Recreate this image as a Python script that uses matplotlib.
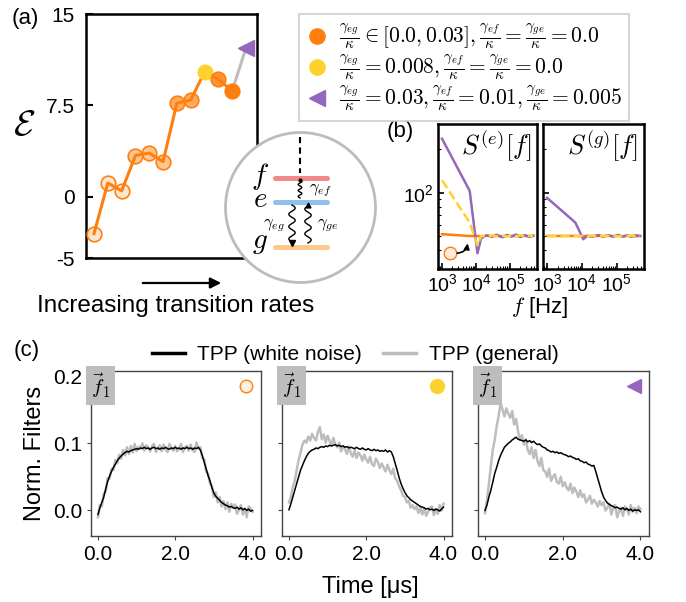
import numpy as np
import matplotlib
matplotlib.use('Agg')
import matplotlib.pyplot as plt
from matplotlib.lines import Line2D
from matplotlib.patches import Circle, FancyArrowPatch
from matplotlib.colors import to_rgba
from matplotlib.ticker import NullFormatter

W, H = 686, 602
plt.rcParams['font.family'] = ['Liberation Sans', 'DejaVu Sans']
plt.rcParams['mathtext.fontset'] = 'cm'

ORANGE = '#ff7f0e'
YELLOW = '#fdd22e'
PURPLE = '#9467bd'
GRAY = '#bdbdbd'

# (a) performance vs transition rates
a_E = [-3.0, 1.15, 0.5, 3.4, 3.6, 2.9, 7.7, 7.95, 10.25, 9.65, 8.7]
a_fill = [0.2, 0.2, 0.2, 0.45, 0.45, 0.45, 0.65, 0.65, 1.0, 0.85, 1.0]
a_yellow_idx = 8
a_purple_E = 12.2
a_yticks = [-5, 0, 7.5, 15]
a_yticklabels = ['-5', '0', '7.5', '15']

# (b) spectra
freq = [1e3, 6.5e3, 1.1e4, 1.4e4, 2e4, 3e4, 4e4, 6e4, 8e4, 1.1e5, 1.5e5, 2e5, 2.7e5, 3.6e5, 4.8e5]
Se_orange = [51.5, 50, 50, 49.8, 50.2, 49.9, 50.1, 49.8, 50.3, 49.9, 50.1, 49.7, 50.2, 49.9, 50.1]
Se_yellow = [122, 62, 43, 50, 49.5, 50.5, 49.8, 50.3, 49.6, 50.4, 49.8, 50.6, 49.7, 50.3, 50]
Se_purple = [237, 103, 38, 48, 50.5, 49.5, 51, 49, 50.8, 49.6, 51.2, 49.3, 50.6, 49.5, 50.2]
Sg_orange = [50, 50.1, 49.8, 50.2, 49.9, 50.1, 49.8, 50.3, 49.9, 50.2, 49.7, 50.1, 50.0, 49.8, 50.1]
Sg_yellow = [50.2, 49.9, 50.1, 49.7, 50.3, 49.8, 50.2, 49.9, 50.4, 49.8, 50.1, 49.9, 50.3, 49.7, 50.0]
Sg_purple = [92, 62, 47.5, 50, 49.6, 50.8, 49.7, 50.4, 49.5, 50.9, 49.6, 50.5, 49.4, 50.6, 50]

# (c) normalised filters, sampled every 0.05 us from 0 to 4 us
c1_white = [-0.006, 0.004, 0.012, 0.020, 0.032, 0.043, 0.051, 0.058, 0.064, 0.069,
            0.074, 0.078, 0.081, 0.084, 0.086, 0.088, 0.087, 0.089, 0.090, 0.091,
            0.092, 0.091, 0.093, 0.092, 0.094, 0.092, 0.093, 0.091, 0.093, 0.094,
            0.092, 0.093, 0.091, 0.093, 0.092, 0.094, 0.092, 0.091, 0.093, 0.092,
            0.094, 0.092, 0.093, 0.091, 0.093, 0.092, 0.094, 0.092, 0.093, 0.091,
            0.093, 0.092, 0.094, 0.090, 0.082, 0.072, 0.062, 0.052, 0.044, 0.034,
            0.026, 0.021, 0.018, 0.015, 0.012, 0.010, 0.008, 0.007, 0.005, 0.006,
            0.004, 0.003, 0.005, 0.002, 0.004, 0.001, 0.003, 0.000, 0.002, -0.001, 0.000]
c1_general = [-0.010, 0.008, 0.006, 0.025, 0.028, 0.048, 0.047, 0.062, 0.060, 0.075,
              0.070, 0.083, 0.077, 0.090, 0.082, 0.094, 0.084, 0.096, 0.086, 0.099,
              0.088, 0.095, 0.092, 0.100, 0.089, 0.097, 0.094, 0.088, 0.096, 0.099,
              0.087, 0.092, 0.097, 0.088, 0.098, 0.091, 0.087, 0.099, 0.093, 0.089,
              0.096, 0.088, 0.092, 0.099, 0.087, 0.094, 0.096, 0.089, 0.098, 0.090,
              0.087, 0.101, 0.092, 0.094, 0.078, 0.076, 0.058, 0.055, 0.040, 0.036,
              0.020, 0.027, 0.012, 0.020, 0.006, 0.014, 0.002, 0.012, -0.002, 0.010,
              0.004, 0.009, -0.005, 0.001, 0.008, -0.006, 0.002, -0.010, 0.006, 0.003, -0.002]
c2_white = [0.001, 0.010, 0.020, 0.030, 0.040, 0.050, 0.060, 0.067, 0.074, 0.080,
            0.085, 0.088, 0.090, 0.091, 0.093, 0.092, 0.094, 0.095, 0.094, 0.096,
            0.095, 0.097, 0.096, 0.097, 0.098, 0.096, 0.097, 0.095, 0.096, 0.094,
            0.095, 0.093, 0.094, 0.093, 0.092, 0.094, 0.092, 0.091, 0.093, 0.091,
            0.090, 0.092, 0.090, 0.089, 0.091, 0.089, 0.090, 0.088, 0.089, 0.088,
            0.090, 0.087, 0.089, 0.087, 0.080, 0.070, 0.060, 0.049, 0.040, 0.033,
            0.027, 0.022, 0.019, 0.016, 0.014, 0.012, 0.010, 0.008, 0.006, 0.005,
            0.004, 0.002, 0.003, 0.001, 0.002, 0.000, 0.002, 0.001, -0.001, 0.002, 0.005]
c2_general = [0.012, 0.020, 0.035, 0.044, 0.060, 0.075, 0.086, 0.098, 0.104, 0.101,
              0.110, 0.104, 0.114, 0.108, 0.104, 0.117, 0.124, 0.106, 0.113, 0.101,
              0.111, 0.104, 0.096, 0.108, 0.098, 0.094, 0.101, 0.088, 0.096, 0.091,
              0.084, 0.095, 0.085, 0.080, 0.090, 0.078, 0.086, 0.082, 0.074, 0.083,
              0.076, 0.071, 0.080, 0.069, 0.066, 0.077, 0.072, 0.063, 0.070, 0.064,
              0.058, 0.068, 0.060, 0.054, 0.062, 0.048, 0.044, 0.036, 0.030, 0.022,
              0.020, 0.012, 0.014, 0.004, 0.008, 0.002, 0.006, -0.004, 0.004, -0.006,
              0.003, -0.008, -0.002, 0.004, 0.006, -0.007, 0.002, -0.005, 0.008, 0.000, 0.010]
c3_white = [0.000, 0.008, 0.020, 0.030, 0.042, 0.055, 0.064, 0.074, 0.082, 0.088,
            0.094, 0.097, 0.100, 0.102, 0.105, 0.107, 0.109, 0.106, 0.105, 0.104,
            0.103, 0.105, 0.102, 0.104, 0.101, 0.103, 0.100, 0.098, 0.099, 0.096,
            0.094, 0.093, 0.090, 0.089, 0.087, 0.088, 0.086, 0.087, 0.085, 0.086,
            0.084, 0.083, 0.082, 0.080, 0.081, 0.079, 0.078, 0.076, 0.077, 0.074,
            0.073, 0.071, 0.072, 0.069, 0.068, 0.066, 0.067, 0.058, 0.048, 0.038,
            0.028, 0.020, 0.015, 0.011, 0.009, 0.007, 0.006, 0.004, 0.005, 0.003,
            0.002, 0.004, 0.001, 0.003, 0.000, 0.002, -0.001, 0.001, 0.000, 0.001, -0.002]
c3_general = [-0.004, 0.015, 0.040, 0.065, 0.090, 0.105, 0.125, 0.140, 0.161, 0.150,
              0.140, 0.152, 0.144, 0.138, 0.148, 0.128, 0.136, 0.118, 0.105, 0.112,
              0.098, 0.106, 0.090, 0.084, 0.094, 0.078, 0.090, 0.074, 0.066, 0.078,
              0.060, 0.058, 0.050, 0.062, 0.044, 0.050, 0.054, 0.042, 0.040, 0.050,
              0.036, 0.042, 0.034, 0.030, 0.040, 0.026, 0.034, 0.028, 0.020, 0.030,
              0.020, 0.024, 0.012, 0.016, 0.022, 0.010, 0.016, 0.012, 0.006, 0.014,
              0.008, 0.012, 0.000, 0.004, 0.010, -0.006, 0.004, 0.008, -0.010, -0.002,
              0.004, -0.008, 0.006, 0.002, -0.006, 0.008, -0.002, 0.004, -0.004, 0.006, 0.002]


def px_axes(fig, x0, y0, x1, y1, **kw):
    """Add axes given its pixel box (top-left origin)"""
    return fig.add_axes([x0 / W, 1 - y1 / H, (x1 - x0) / W, (y1 - y0) / H], **kw)


def ftext(fig, x, y, s, **kw):
    return fig.text(x / W, 1 - y / H, s, **kw)


fig = plt.figure(figsize=(W / 100, H / 100), dpi=100)

# ---------------- (a) ----------------
axa = px_axes(fig, 86, 14, 257, 258)
xa = np.arange(len(a_E))
axa.plot(xa, a_E, color=ORANGE, lw=2.2, zorder=2)
axa.plot([xa[-1], xa[-1] + 1], [a_E[-1], a_purple_E], color=GRAY, lw=2.2, zorder=1)
for i, (x, e, al) in enumerate(zip(xa, a_E, a_fill)):
    if i == a_yellow_idx:
        axa.plot(x, e, 'o', ms=10.5, mfc=YELLOW, mec=YELLOW, zorder=3)
    else:
        axa.plot(x, e, 'o', ms=10.5, mfc=to_rgba(ORANGE, al), mec=ORANGE, mew=1.2, zorder=3)
axa.plot(xa[-1] + 1, a_purple_E, '<', ms=11, color=PURPLE, zorder=3)
axa.set_xlim(-0.58, 11.8)
axa.set_ylim(-5, 15)
axa.set_xticks([])
axa.set_yticks(a_yticks)
axa.set_yticklabels(a_yticklabels)
axa.tick_params(axis='y', direction='in', length=5, width=1.5, labelsize=15, pad=8)
for s in axa.spines.values():
    s.set_linewidth(1.8)
axa.set_ylabel(r'$\mathcal{E}$', fontsize=26, rotation=0, labelpad=14)
axa.yaxis.set_label_coords(-0.36, 0.47)
ftext(fig, 12, 24, '(a)', fontsize=16)

fig.add_artist(FancyArrowPatch(
    (140 / W, 1 - 283 / H), (224 / W, 1 - 283 / H), transform=fig.transFigure,
    arrowstyle='-|>', mutation_scale=16, lw=1.6, color='black'))
ftext(fig, 176, 306, 'Increasing transition rates', fontsize=17.5, ha='center', va='center')

# legend for (a)
handles = [
    Line2D([], [], ls='none', marker='o', ms=11, color=ORANGE),
    Line2D([], [], ls='none', marker='o', ms=11, color=YELLOW),
    Line2D([], [], ls='none', marker='<', ms=11, color=PURPLE),
]
labels = [
    r'$\frac{\gamma_{eg}}{\kappa} \in [0.0, 0.03], \frac{\gamma_{ef}}{\kappa} = \frac{\gamma_{ge}}{\kappa} = 0.0$',
    r'$\frac{\gamma_{eg}}{\kappa} = 0.008, \frac{\gamma_{ef}}{\kappa} = \frac{\gamma_{ge}}{\kappa} = 0.0$',
    r'$\frac{\gamma_{eg}}{\kappa} = 0.03, \frac{\gamma_{ef}}{\kappa} = 0.01, \frac{\gamma_{ge}}{\kappa} = 0.005$',
]
leg = fig.legend(handles, labels, loc='upper left', bbox_to_anchor=(299 / W, 1 - 14 / H),
                 fontsize=15.5, frameon=True, fancybox=False, handlelength=1.0,
                 handletextpad=0.5, borderpad=0.35, labelspacing=0.08, borderaxespad=0)
leg.get_frame().set_edgecolor('#cccccc')
leg.get_frame().set_linewidth(1.5)

# ---------------- level diagram inset ----------------
axd = px_axes(fig, 224, 131, 377, 284)
axd.set_xlim(224, 377)
axd.set_ylim(284, 131)
axd.axis('off')
axd.add_patch(Circle((300.5, 207.5), 75, facecolor='white', edgecolor='#bcbcbc', lw=2))
axd.plot([275, 327], [177.5, 177.5], color='#f08a8a', lw=3.6, solid_capstyle='round')
axd.plot([275, 327], [201.5, 201.5], color='#8fc1ea', lw=3.6, solid_capstyle='round')
axd.plot([275, 327], [246.5, 246.5], color='#fcc98b', lw=3.6, solid_capstyle='round')
axd.plot([300, 300], [137, 173], color='black', lw=1.5, ls=(0, (3, 2)))
for lab, yy in [('f', 176), ('e', 199), ('g', 242)]:
    axd.text(260, yy, '$%s$' % lab, fontsize=21, ha='center', va='center')


def squiggle(ax, x, y0, y1, amp, nwave):
    yy = np.linspace(y0, y1, 100)
    xx = x + amp * np.sin(2 * np.pi * nwave * (yy - y0) / (y1 - y0))
    ax.plot(xx, yy, color='black', lw=1.0)


squiggle(axd, 300, 180, 198, 1.8, 3)
squiggle(axd, 292, 205, 242, 3.2, 3)
squiggle(axd, 308, 243, 206, 3.2, 3)
axd.plot(300, 180, marker='o', ms=2, color='black')
axd.plot(292, 243, marker='v', ms=4, color='black')
axd.plot(308, 205, marker='^', ms=3.5, color='black')
axd.text(309, 190, r'$\gamma_{ef}$', fontsize=12, ha='left', va='center')
axd.text(274, 225, r'$\gamma_{eg}$', fontsize=12, ha='center', va='center')
axd.text(317, 225, r'$\gamma_{ge}$', fontsize=12, ha='left', va='center')

# ---------------- (b) ----------------
axb1 = px_axes(fig, 438, 124, 537, 269)
axb2 = px_axes(fig, 543, 124, 644, 269, sharey=axb1)
axb1.plot(freq, Se_orange, color=ORANGE, lw=1.8)
axb1.plot(freq, Se_purple, color=PURPLE, lw=1.8)
axb1.plot(freq, Se_yellow, color=YELLOW, lw=1.8, ls='--')
axb2.plot(freq, Sg_orange, color=ORANGE, lw=1.8)
axb2.plot(freq, Sg_purple, color=PURPLE, lw=1.8)
axb2.plot(freq, Sg_yellow, color=YELLOW, lw=1.8, ls='--')
for ax in (axb1, axb2):
    ax.set_xscale('log')
    ax.set_yscale('log')
    ax.set_xlim(760, 6.2e5)
    ax.set_ylim(29.5, 300)
    ax.set_xticks([1e3, 1e4, 1e5])
    ax.yaxis.set_minor_formatter(NullFormatter())
    ax.tick_params(which='both', direction='in', labelsize=14, pad=3)
    ax.tick_params(which='major', length=4, width=1.2)
    ax.tick_params(which='minor', length=2, width=0.8)
    for s in ax.spines.values():
        s.set_linewidth(1.8)
axb1.set_yticks([100])
axb1.set_yticklabels([r'$\mathdefault{10^{2}}$'])
plt.setp(axb2.get_yticklabels(), visible=False)
axb1.text(0.94, 0.97, r'$S^{(e)}[f]$', transform=axb1.transAxes, fontsize=19, ha='right', va='top')
axb2.text(0.94, 0.97, r'$S^{(g)}[f]$', transform=axb2.transAxes, fontsize=19, ha='right', va='top')
axb1.plot(1.72e3, 38.3, 'o', ms=9, mfc=to_rgba(ORANGE, 0.15), mec=ORANGE, mew=1.0)
axb1.annotate('', xy=(5.8e3, 46.4), xytext=(2.3e3, 38.0),
              arrowprops=dict(arrowstyle='-|>', color='black', lw=1.2, mutation_scale=8,
                              connectionstyle='arc3,rad=0.5'))
ftext(fig, 387, 137, '(b)', fontsize=16)
ftext(fig, 540, 307, r'$f$ [Hz]', fontsize=16, ha='center', va='center')

# ---------------- (c) ----------------
c_white = [c1_white, c2_white, c3_white]
c_general = [c1_general, c2_general, c3_general]
c_boxes = [(91, 261), (282, 452), (478, 649)]
for k in range(3):
    x0, x1 = c_boxes[k]
    ax = px_axes(fig, x0, 371, x1, 536)
    tg = np.linspace(0, 4, len(c_general[k]))
    tw = np.linspace(0, 4, len(c_white[k]))
    ax.plot(tg, c_general[k], color=GRAY, lw=1.8)
    ax.plot(tw, c_white[k], color='black', lw=1.1)
    ax.set_xlim(-0.18, 4.22)
    ax.set_ylim(-0.038, 0.2075)
    ax.set_xticks([0, 2, 4])
    ax.set_xticklabels(['0.0', '2.0', '4.0'])
    ax.set_yticks([0, 0.1, 0.2])
    if k == 0:
        ax.set_yticklabels(['0.0', '0.1', '0.2'])
        ax.set_ylabel('Norm. Filters', fontsize=17, labelpad=5)
    else:
        ax.set_yticklabels([])
    ax.tick_params(direction='out', length=3, labelsize=15, color='#444444')
    for s in ax.spines.values():
        s.set_linewidth(1.0)
        s.set_color('#444444')
    ax.text(0.0, 1.0, r'$\vec{f}_1$', transform=ax.transAxes, fontsize=15, ha='left', va='top',
            bbox=dict(boxstyle='square,pad=0.25', facecolor='#bdbdbd', edgecolor='none'))
    if k == 0:
        ax.plot(0.91, 0.91, 'o', ms=9, mfc=to_rgba(ORANGE, 0.12), mec=ORANGE, mew=1.0,
                transform=ax.transAxes)
    elif k == 1:
        ax.plot(0.91, 0.91, 'o', ms=10, color=YELLOW, transform=ax.transAxes)
    else:
        ax.plot(0.91, 0.91, '<', ms=10, color=PURPLE, transform=ax.transAxes)

ftext(fig, 14, 356, '(c)', fontsize=16)
ftext(fig, 370, 587, 'Time [μs]', fontsize=17, ha='center', va='center')
leg2 = fig.legend([Line2D([], [], color='black', lw=2.5), Line2D([], [], color=GRAY, lw=2.5)],
                  ['TPP (white noise)', 'TPP (general)'], loc='center',
                  bbox_to_anchor=(355 / W, 1 - 355 / H), ncol=2, frameon=False, fontsize=15,
                  handlelength=1.6, columnspacing=1.0, handletextpad=0.6)

fig.savefig('out.png', dpi=100)
